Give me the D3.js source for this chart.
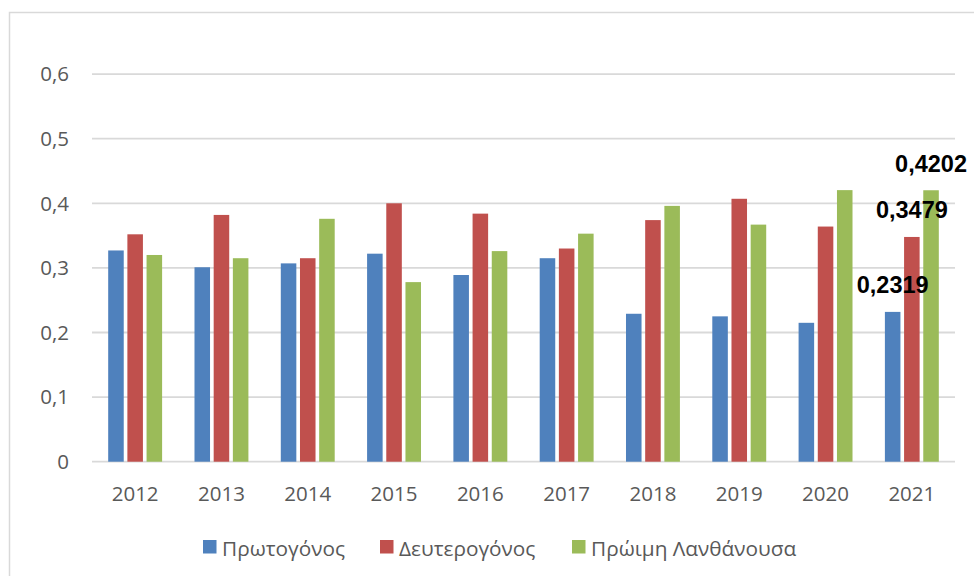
<!DOCTYPE html>
<html>
<head>
<meta charset="utf-8">
<script src="https://cdn.jsdelivr.net/npm/d3@7"></script>
<style>
  body { margin: 0; background: #fff; }
  svg { display: block; }
</style>
</head>
<body>
<div id="chart"></div>
<script>
// Chart data
const years = ["2012", "2013", "2014", "2015", "2016", "2017", "2018", "2019", "2020", "2021"];
const seriesNames = ["Πρωτογόνος", "Δευτερογόνος", "Πρώιμη Λανθάνουσα"];
const seriesColors = ["#4F81BD", "#C0504D", "#9BBB59"];
const primary   = [0.327, 0.301, 0.307, 0.322, 0.289, 0.315, 0.229, 0.225, 0.215, 0.2319];
const secondary = [0.352, 0.382, 0.315, 0.400, 0.384, 0.330, 0.374, 0.407, 0.364, 0.3479];
const early     = [0.320, 0.315, 0.376, 0.278, 0.326, 0.353, 0.396, 0.367, 0.4204, 0.4202];
const yTicks = [0, 0.1, 0.2, 0.3, 0.4, 0.5, 0.6];
// only the last year carries value labels
const labelledYear = "2021";

const values = [primary, secondary, early];
const width = 974, height = 576;

const svg = d3.select("#chart").append("svg")
    .attr("width", width)
    .attr("height", height);

// outer chart frame
svg.append("rect")
    .attr("x", 9.5).attr("y", 12.5)
    .attr("width", 980).attr("height", 580)
    .attr("fill", "#fff")
    .attr("stroke", "#d9d9d9")
    .attr("stroke-width", 1.5);

const plotLeft = 92, plotRight = 955;
const y = d3.scaleLinear().domain([0, 0.6]).range([461.7, 74.1]);

const x0 = d3.scaleBand()
    .domain(years)
    .range([plotLeft, plotRight])
    .paddingInner(0.333)
    .paddingOuter(0.1665);

const x1 = d3.scaleBand()
    .domain(d3.range(seriesNames.length))
    .range([0, x0.bandwidth()])
    .paddingInner(0.19)
    .paddingOuter(0.095);

// gridlines
svg.append("g")
    .selectAll("line")
    .data(yTicks)
    .join("line")
    .attr("x1", plotLeft)
    .attr("x2", plotRight)
    .attr("y1", d => y(d))
    .attr("y2", d => y(d))
    .attr("stroke", "#d9d9d9")
    .attr("stroke-width", 1.8);

// y tick labels
const fmt = d => d3.format(".1~f")(d).replace(".", ",");
svg.append("g")
    .selectAll("text")
    .data(yTicks)
    .join("text")
    .attr("x", 69)
    .attr("y", d => y(d))
    .attr("dy", "0.36em")
    .attr("text-anchor", "end")
    .attr("font-family", "Open Sans, sans-serif")
    .attr("font-size", 20.5)
    .attr("fill", "#595959")
    .text(fmt);

// x labels
svg.append("g")
    .selectAll("text")
    .data(years)
    .join("text")
    .attr("x", d => x0(d) + x0.bandwidth() / 2)
    .attr("y", 501)
    .attr("text-anchor", "middle")
    .attr("font-family", "Open Sans, sans-serif")
    .attr("font-size", 20.5)
    .attr("fill", "#595959")
    .text(d => d);

// bars
const groups = svg.append("g")
    .selectAll("g")
    .data(years)
    .join("g")
    .attr("transform", d => `translate(${x0(d)},0)`);

groups.selectAll("rect")
    .data((d, i) => values.map((s, k) => ({ year: d, k: k, v: s[i] })))
    .join("rect")
    .attr("x", d => x1(d.k))
    .attr("y", d => y(d.v))
    .attr("width", x1.bandwidth())
    .attr("height", d => y(0) - y(d.v))
    .attr("fill", d => seriesColors[d.k]);

// value labels for the last year
groups.filter(d => d === labelledYear)
    .selectAll("text")
    .data((d, i) => values.map((s, k) => ({ k: k, v: s[years.indexOf(d)] })))
    .join("text")
    .attr("x", d => x1(d.k) + x1.bandwidth() / 2)
    .attr("y", d => y(d.v) - 18.5)
    .attr("text-anchor", "middle")
    .attr("font-family", "Liberation Sans, Arial, sans-serif")
    .attr("font-weight", "bold")
    .attr("font-size", 23.5)
    .attr("fill", "#000")
    .text(d => d3.format(".4f")(d.v).replace(".", ","));

// legend
const legendX = [203, 380, 572];
const legend = svg.append("g")
    .selectAll("g")
    .data(seriesNames)
    .join("g")
    .attr("transform", (d, i) => `translate(${legendX[i]},540)`);

legend.append("rect")
    .attr("width", 13.5)
    .attr("height", 13.5)
    .attr("fill", (d, i) => seriesColors[i]);

legend.append("text")
    .attr("x", 19)
    .attr("y", 15.5)
    .attr("font-family", "Open Sans, sans-serif")
    .attr("font-size", 20.8)
    .attr("fill", "#595959")
    .text(d => d);
</script>
</body>
</html>
